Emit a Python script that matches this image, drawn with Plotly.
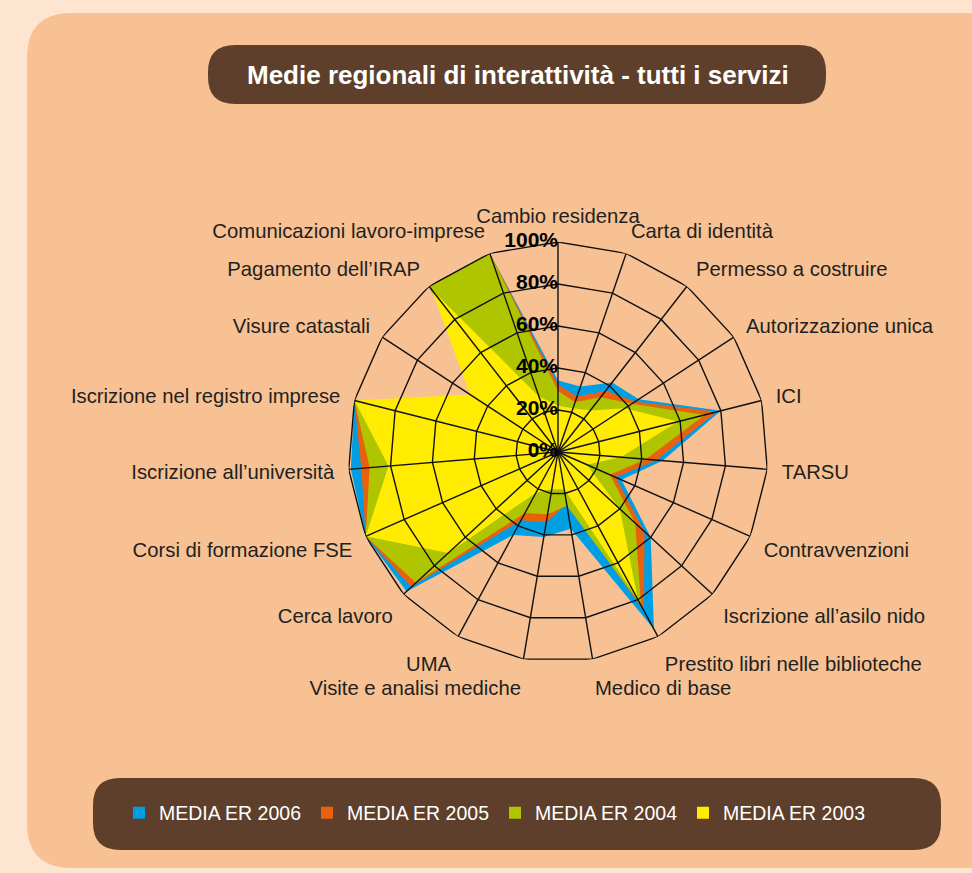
import plotly.graph_objects as go

W, H = 972, 873
FONT = "Liberation Sans, Arial, sans-serif"

categories = [
    "Cambio residenza",
    "Carta di identità",
    "Permesso a costruire",
    "Autorizzazione unica",
    "ICI",
    "TARSU",
    "Contravvenzioni",
    "Iscrizione all’asilo nido",
    "Prestito libri nelle biblioteche",
    "Medico di base",
    "Visite e analisi mediche",
    "UMA",
    "Cerca lavoro",
    "Corsi di formazione FSE",
    "Iscrizione all’università",
    "Iscrizione nel registro imprese",
    "Visure catastali",
    "Pagamento dell’IRAP",
    "Comunicazioni lavoro-imprese",
]

media_2006 = [34, 33, 42, 46, 80, 50, 33, 60, 96, 37, 41, 45, 98, 100, 99, 100, 35, 100, 100]
media_2005 = [32, 28, 37, 44, 78, 47, 30, 56, 86, 25, 34, 37, 95, 100, 94, 100, 35, 100, 100]
media_2004 = [29, 25, 33, 42, 72, 42, 27, 50, 83, 26, 30, 33, 92, 100, 90, 100, 35, 100, 100]
media_2003 = [22, 22, 25, 38, 59, 30, 15, 40, 80, 18, 18, 22, 71, 100, 81, 100, 50, 98, 28]

series_names = ["MEDIA ER 2006", "MEDIA ER 2005", "MEDIA ER 2004", "MEDIA ER 2003"]
series_colors = ["#009FE3", "#E8620E", "#AFC500", "#FFEC00"]

radial_ticks = [0, 20, 40, 60, 80, 100]
tick_labels = ["0%", "20%", "40%", "60%", "80%", "100%"]


def px_x(x):
    return x / W


def px_y(y):
    return 1 - y / H


def rounded_box(x0, y0, x1, y1, r):
    # rounded rectangle path in paper coordinates, input in pixels (top-left origin)
    pts = [
        f"M {px_x(x0 + r)},{px_y(y0)}",
        f"L {px_x(x1 - r)},{px_y(y0)}",
        f"Q {px_x(x1)},{px_y(y0)} {px_x(x1)},{px_y(y0 + r)}",
        f"L {px_x(x1)},{px_y(y1 - r)}",
        f"Q {px_x(x1)},{px_y(y1)} {px_x(x1 - r)},{px_y(y1)}",
        f"L {px_x(x0 + r)},{px_y(y1)}",
        f"Q {px_x(x0)},{px_y(y1)} {px_x(x0)},{px_y(y1 - r)}",
        f"L {px_x(x0)},{px_y(y0 + r)}",
        f"Q {px_x(x0)},{px_y(y0)} {px_x(x0 + r)},{px_y(y0)}",
        "Z",
    ]
    return " ".join(pts)


fig = go.Figure()

closed_theta = categories + [categories[0]]

# filled areas, 2006 at the back, 2003 in front
for name, vals, col in zip(series_names, [media_2006, media_2005, media_2004, media_2003], series_colors):
    fig.add_trace(
        go.Scatterpolar(
            r=vals + [vals[0]],
            theta=closed_theta,
            mode="lines",
            fill="toself",
            fillcolor=col,
            line=dict(width=0, color=col),
            name=name,
            showlegend=False,
        )
    )

# grid drawn above the areas (straight segments -> polygon rings)
for t in radial_ticks[1:]:
    fig.add_trace(
        go.Scatterpolar(
            r=[t] * len(closed_theta),
            theta=closed_theta,
            mode="lines",
            line=dict(color="#111111", width=1.4),
            showlegend=False,
            hoverinfo="skip",
        )
    )

spoke_r, spoke_theta = [], []
for c in categories:
    spoke_r += [0, radial_ticks[-1], None]
    spoke_theta += [c, c, c]
fig.add_trace(
    go.Scatterpolar(
        r=spoke_r,
        theta=spoke_theta,
        mode="lines",
        line=dict(color="#111111", width=1.4),
        showlegend=False,
        hoverinfo="skip",
    )
)

# percentage labels along the first spoke
fig.add_trace(
    go.Scatterpolar(
        r=radial_ticks,
        theta=[categories[0]] * len(radial_ticks),
        mode="text",
        text=tick_labels,
        textposition="middle left",
        textfont=dict(family=FONT, size=21, color="#000000", weight="bold"),
        cliponaxis=False,
        showlegend=False,
        hoverinfo="skip",
    )
)

# legend entries
for name, col in zip(series_names, series_colors):
    fig.add_trace(
        go.Scatterpolar(
            r=[None],
            theta=[categories[0]],
            mode="markers",
            marker=dict(symbol="square", size=13, color=col),
            name=name,
        )
    )

cx, cy, rad = 558, 452, 210
fig.update_layout(
    width=W,
    height=H,
    margin=dict(l=0, r=0, t=0, b=0),
    paper_bgcolor="#FDE5D0",
    font=dict(family=FONT, color="#231F20"),
    polar=dict(
        domain=dict(
            x=[(cx - rad) / W, (cx + rad) / W],
            y=[(H - cy - rad) / H, (H - cy + rad) / H],
        ),
        bgcolor="rgba(0,0,0,0)",
        radialaxis=dict(
            range=[0, 100],
            showgrid=False,
            showline=False,
            showticklabels=False,
            ticks="",
        ),
        angularaxis=dict(
            direction="clockwise",
            rotation=90,
            showgrid=False,
            showline=False,
            ticks="outside",
            ticklen=10,
            tickcolor="rgba(0,0,0,0)",
            tickfont=dict(family=FONT, size=20.3, color="#231F20"),
        ),
    ),
    shapes=[
        dict(type="path", path=rounded_box(27, 13, 1010, 868, 45),
             xref="paper", yref="paper", fillcolor="#F7C194", line=dict(width=0), layer="below"),
        dict(type="path", path=rounded_box(208, 45, 826, 104, 27),
             xref="paper", yref="paper", fillcolor="#5E3F2B", line=dict(width=0), layer="below"),
        dict(type="path", path=rounded_box(93, 778, 941, 850, 27),
             xref="paper", yref="paper", fillcolor="#5E3F2B", line=dict(width=0), layer="below"),
    ],
    annotations=[
        dict(
            text="<b>Medie regionali di interattività - tutti i servizi</b>",
            x=px_x(518), y=px_y(75), xref="paper", yref="paper",
            showarrow=False, xanchor="center", yanchor="middle",
            font=dict(family=FONT, size=26, color="#FFFFFF"),
        )
    ],
    legend=dict(
        orientation="h",
        x=px_x(119), y=px_y(813), xanchor="left", yanchor="middle",
        bgcolor="rgba(0,0,0,0)",
        font=dict(family=FONT, size=19.5, color="#FFFFFF"),
        entrywidth=143, entrywidthmode="pixels",
        itemsizing="constant",
    ),
)

fig.write_html(
    "out.html",
    config={"displayModeBar": False},
    post_script="document.body.style.margin='0';",
)
